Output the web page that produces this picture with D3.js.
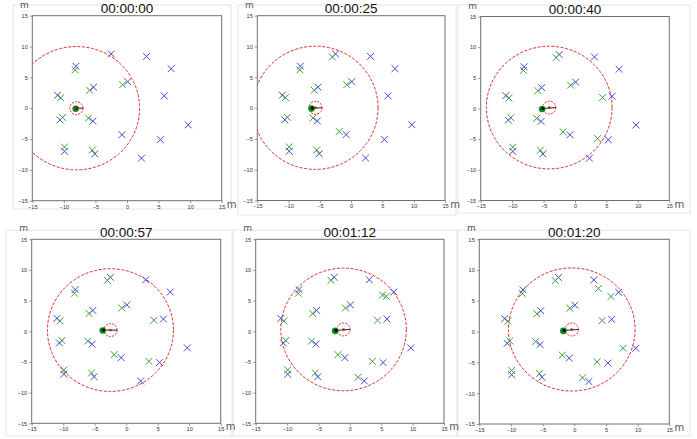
<!DOCTYPE html>
<html>
<head>
<meta charset="utf-8">
<title>robot localisation snapshots</title>
<script src="https://cdnjs.cloudflare.com/ajax/libs/d3/7.8.5/d3.min.js"></script>
<style>
  html, body { margin: 0; padding: 0; background: #fff; }
  svg { display: block; font-family: "DejaVu Sans", sans-serif; }
</style>
</head>
<body>
<div id="chart"></div>
<script>
// snapshot titles
const times = ["00:00:00", "00:00:25", "00:00:40", "00:00:57", "00:01:12", "00:01:20"];

// blue crosses (fixed beacons)
const beaconX = [-2.5, 3.1, 7.0, -8.1, 0.1, -5.3, -11.0, 5.9, -10.6, -5.4, -0.8, 9.7, 5.3, -9.9, -5.1, 2.3];
const beaconY = [8.8, 8.4, 6.4, 6.8, 4.3, 3.4, 2.1, 2.0, -1.9, -2.1, -4.3, -2.7, -5.1, -7.0, -7.4, -8.1];

// green crosses (detections), visible from snapshot first to last
const detX = [-8.2, -10.5, -5.9, -0.7, -10.2, -6.1, -9.9, -5.5, -3.0, -1.9, 4.4, 3.6, 5.2, 5.8, 1.3, 3.8, 7.7];
const detY = [6.2, 1.7, 2.9, 3.8, -1.5, -1.6, -6.3, -6.8, 8.3, -3.8, 1.8, -4.9, 5.9, 5.7, -7.5, 7.0, -2.7];
const detFirst = [0, 0, 0, 0, 0, 0, 0, 0, 1, 1, 2, 2, 4, 4, 4, 5, 5];
const detLast = [5, 5, 5, 5, 5, 5, 5, 5, 5, 5, 5, 5, 4, 5, 5, 5, 5];

// robot position and estimated centre per snapshot
const robotX = [-8.0, -6.2, -5.1, -3.6, -2.2, -1.6];
const robotY = [0.0, 0.0, 0.0, 0.2, 0.15, 0.2];
const centreX = [-8.0, -5.7, -4.1, -2.5, -1.0, -0.4];
const centreY = [0.0, 0.05, 0.15, 0.2, 0.3, 0.35];
const senseRadius = 10;
const innerRadius = 1.05;

const ticks = [-15, -10, -5, 0, 5, 10, 15];

// frame box of each subplot in page pixels
const frames = [
  {x0: 32.3, x1: 221.7, y0: 15.7, y1: 200.7},
  {x0: 257.3, x1: 445, y0: 15.7, y1: 200.5},
  {x0: 480.7, x1: 669.3, y0: 16.5, y1: 200.5},
  {x0: 31.7, x1: 220.7, y0: 239.3, y1: 423.3},
  {x0: 255.7, x1: 444, y0: 239.3, y1: 423.3},
  {x0: 479.3, x1: 669.3, y0: 239.3, y1: 424}
];
// faint outline round each picture
const outlines = [
  [13, 5, 231, 209], [238, 5, 456, 215], [458, 5, 690, 213],
  [6, 230, 232, 436], [233, 230, 457, 436], [458, 230, 690, 436]
];

const W = 697, H = 439;
const svg = d3.select("#chart").append("svg").attr("width", W).attr("height", H);

outlines.forEach(o => {
  svg.append("rect")
    .attr("x", o[0]).attr("y", o[1])
    .attr("width", o[2] - o[0]).attr("height", o[3] - o[1])
    .attr("fill", "none").attr("stroke", "#e4e4e4").attr("stroke-width", 1);
});

const fmt = d => d < 0 ? "\u2212" + Math.abs(d) : String(d);

function cross(g, x, y, color) {
  const s = 3.4;
  g.append("path")
    .attr("d", `M${x - s},${y - s}L${x + s},${y + s}M${x - s},${y + s}L${x + s},${y - s}`)
    .attr("stroke", color).attr("stroke-width", 1).attr("fill", "none");
}

frames.forEach((f, i) => {
  const x = d3.scaleLinear().domain([-15, 15]).range([f.x0, f.x1]);
  const y = d3.scaleLinear().domain([-15, 15]).range([f.y1, f.y0]);
  const g = svg.append("g");

  g.append("clipPath").attr("id", "clip" + i)
    .append("rect").attr("x", f.x0).attr("y", f.y0)
    .attr("width", f.x1 - f.x0).attr("height", f.y1 - f.y0);

  // axes
  const ax = g.append("g")
    .attr("transform", `translate(0,${f.y1})`)
    .call(d3.axisBottom(x).tickValues(ticks).tickFormat(fmt).tickSize(2.5).tickPadding(1.5));
  const ay = g.append("g")
    .attr("transform", `translate(${f.x0},0)`)
    .call(d3.axisLeft(y).tickValues(ticks).tickFormat(fmt).tickSize(2.5).tickPadding(2));
  [ax, ay].forEach(a => {
    a.select(".domain").remove();
    a.selectAll("line").attr("stroke", "#555").attr("stroke-width", 0.6);
    a.selectAll("text").attr("font-size", "5.6px").attr("fill", "#333");
  });

  const plot = g.append("g").attr("clip-path", `url(#clip${i})`);

  // sensing range
  const cx = x(centreX[i]), cy = y(centreY[i]);
  const sx = Math.abs(x(senseRadius) - x(0)), sy = Math.abs(y(senseRadius) - y(0));
  plot.append("ellipse")
    .attr("cx", cx).attr("cy", cy).attr("rx", sx).attr("ry", sy)
    .attr("fill", "none").attr("stroke", "#e0282a").attr("stroke-width", 1)
    .attr("stroke-dasharray", "3,1.6");

  // beacons
  beaconX.forEach((bx, k) => cross(plot, x(bx), y(beaconY[k]), "#4646d8"));
  // detections
  detX.forEach((dx, k) => {
    if (i >= detFirst[k] && i <= detLast[k]) cross(plot, x(dx), y(detY[k]), "#3c9c3c");
  });

  // robot
  const rx = x(robotX[i]), ry = y(robotY[i]);
  const ix = Math.abs(x(innerRadius) - x(0)), iy = Math.abs(y(innerRadius) - y(0));
  plot.append("ellipse")
    .attr("cx", cx).attr("cy", cy).attr("rx", ix).attr("ry", iy)
    .attr("fill", "none").attr("stroke", "#e0282a").attr("stroke-width", 1)
    .attr("stroke-dasharray", "2,1.2");
  plot.append("line")
    .attr("x1", rx).attr("y1", ry).attr("x2", x(centreX[i] + innerRadius)).attr("y2", cy)
    .attr("stroke", "#222").attr("stroke-width", 1);
  plot.append("circle").attr("cx", rx - 0.8).attr("cy", ry + 0.5).attr("r", 3.3).attr("fill", "#0c8a1c");
  plot.append("circle").attr("cx", rx).attr("cy", ry).attr("r", 1.6).attr("fill", "#000");
  plot.append("circle").attr("cx", cx).attr("cy", cy).attr("r", 1.3).attr("fill", "#d01010");

  // frame
  g.append("rect")
    .attr("x", f.x0).attr("y", f.y0)
    .attr("width", f.x1 - f.x0).attr("height", f.y1 - f.y0)
    .attr("fill", "none").attr("stroke", "#707070").attr("stroke-width", 1);

  // unit labels and title
  g.append("text").attr("x", f.x0 - 8).attr("y", f.y0 - 8)
    .attr("text-anchor", "middle").attr("font-size", "9px").attr("fill", "#555").text("m");
  g.append("text").attr("x", f.x1 + 10).attr("y", f.y1 + 7)
    .attr("text-anchor", "middle").attr("font-size", "10px").attr("fill", "#555").text("m");
  g.append("text").attr("x", (f.x0 + f.x1) / 2).attr("y", f.y0 - 2.5)
    .attr("text-anchor", "middle").attr("font-family", "Liberation Sans, Arial, sans-serif")
    .attr("font-size", "13.5px").attr("fill", "#111").text(times[i]);
});
</script>
</body>
</html>
